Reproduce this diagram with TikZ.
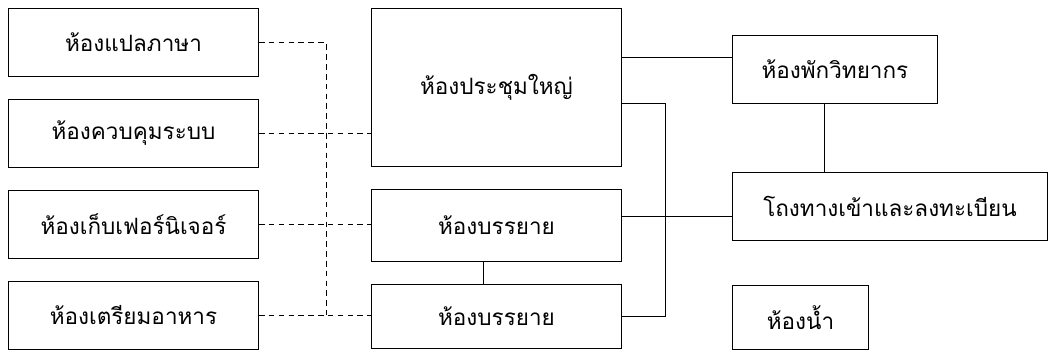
\documentclass[tikz,border=0pt]{standalone}
\usepackage{fontspec}
\newfontfamily\thaifont[Script=Thai]{Loma}
\usetikzlibrary{positioning, calc}

\begin{document}
\begin{tikzpicture}[
    room/.style={draw, line width=0.7pt, minimum width=6.25cm, minimum height=1.7cm, align=center, font=\thaifont\fontsize{16}{19}\selectfont},
    wire/.style={line width=0.6pt},
    service/.style={line width=0.6pt, dash pattern=on 4pt off 3pt}
]
\useasboundingbox (0,0) rectangle (26.2,-8.825);
% left column
\node[room, anchor=north west] (interp) at (0.2,-0.2) {ห้องแปลภาษา};
\node[room, below=0.55cm of interp] (control) {ห้องควบคุมระบบ};
\node[room, below=0.55cm of control] (store) {ห้องเก็บเฟอร์นิเจอร์};
\node[room, below=0.55cm of store] (kitchen) {ห้องเตรียมอาหาร};
% middle column
\node[room, minimum height=3.95cm, right=2.8cm of interp.north east, anchor=north west] (hall) {ห้องประชุมใหญ่};
\node[room, minimum height=1.8cm, below=0.55cm of hall] (lecA) {ห้องบรรยาย};
\node[room, minimum height=1.6cm, below=0.55cm of lecA] (lecB) {ห้องบรรยาย};
% right column
\node[room, minimum width=5.125cm, right=2.75cm of hall.north east, anchor=north west, yshift=-0.675cm] (speaker) {ห้องพักวิทยากร};
\node[room, minimum width=7.875cm, below=1.7cm of speaker.south west, anchor=north west] (entry) {โถงทางเข้าและลงทะเบียน};
\node[room, minimum width=3.4cm, minimum height=1.6cm, below=1.1cm of entry.south west, anchor=north west] (wc) {ห้องน้ำ};

% service links
\coordinate (jtop) at ($(interp.east -| hall.west)+(-1.125,0)$);
\coordinate (jbot) at (jtop |- kitchen.east);
\draw[service] (interp.east) -- (jtop) -- (jbot);
\draw[service] (control.east) -- (control.east -| hall.west);
\draw[service] (store.east) -- (store.east -| lecA.west);
\draw[service] (kitchen.east) -- (kitchen.east -| lecB.west);

% main links
\coordinate (riser) at ($(lecB.east)+(1.075,0)$);
\draw[wire] ([yshift=0.3cm]speaker.west) -- ([yshift=0.3cm]speaker.west -| hall.east);
\draw[wire] ([yshift=-0.4cm]hall.east) -| (riser) -- (lecB.east);
\draw[wire] ([yshift=-0.25cm]entry.west) -- ([yshift=-0.25cm]entry.west -| lecA.east);
\draw[wire] ([xshift=-0.275cm]speaker.south) -- ([xshift=-0.275cm]speaker.south |- entry.north);
\draw[wire] ([xshift=-0.325cm]lecA.south) -- ([xshift=-0.325cm]lecA.south |- lecB.north);
\end{tikzpicture}
\end{document}
